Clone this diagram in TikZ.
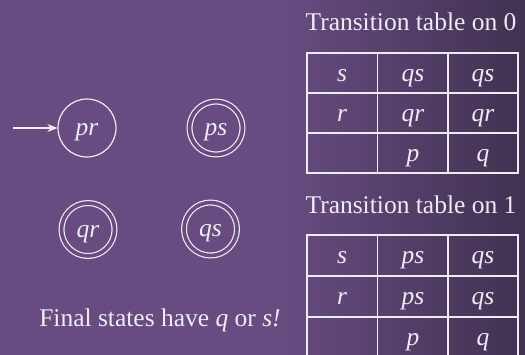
\documentclass[tikz,border=0pt]{standalone}
\usepackage{fontspec}
\setmainfont{Liberation Serif}
\usetikzlibrary{arrows.meta,positioning}
\definecolor{slidebg}{RGB}{103,75,129}
\definecolor{slidedark}{RGB}{62,49,79}
\definecolor{chalk}{RGB}{238,236,242}

\tikzset{
  state/.style={circle, draw=chalk, line width=1.2pt, minimum size=58pt, inner sep=0pt,
    text=chalk, text height=15pt, text depth=0pt},
  final/.style={state, minimum size=53pt, double=slidebg, double distance=3.6pt},
  cell/.style={text=chalk, inner sep=0pt, text height=16pt, text depth=0pt},
  caption/.style={text=chalk, anchor=base, inner sep=0pt},
  gridline/.style={draw=chalk, line width=1.4pt},
}

\begin{document}
\begin{tikzpicture}[x=1pt,y=-1pt,font=\fontsize{25.5}{30}\selectfont]
\useasboundingbox (0,0) rectangle (525,354);
\clip (0,0) rectangle (525,354);
\fill[slidebg] (-10,-10) rectangle (535,364);
\shade[left color=slidebg, right color=slidedark] (285,-10) rectangle (535,364);

\node[state] (pr) at (87,128) {\textit{pr}};
\node[final] (ps) at (216,128) {\textit{ps}};
\node[final] (qr) at (88,229.5) {\textit{qr}};
\node[final] (qs) at (210.5,229) {\textit{qs}};
\coordinate (start) at (13,128);
\draw[-{Stealth[length=10pt,width=8pt]}, chalk, line width=1.3pt] (start) -- (pr);

\node[caption] (note) at (160,326) {Final states have \textit{q} or \textit{s!}};

\foreach \y/\h in {53/40,235/41}{
  \draw[gridline] (307,\y) rectangle (518,\y+3*\h);
  \foreach \c in {377.5,448} \draw[gridline] (\c,\y) -- (\c,\y+3*\h);
  \foreach \r in {1,2} \draw[gridline] (307,\y+\r*\h) -- (518,\y+\r*\h);
}

\node[caption] (cap0) at (411,30) {Transition table on 0};
\foreach \row/\lab/\mid/\rgt in {1/s/qs/qs,2/r/qr/qr}{
  \node[cell] (zero\row a) at (342,33+40*\row) {\textit{\lab}};
  \node[cell] (zero\row b) at (413,33+40*\row) {\textit{\mid}};
  \node[cell] (zero\row c) at (483,33+40*\row) {\textit{\rgt}};
}
\node[cell] (zero3b) at (413,153) {\textit{p}};
\node[cell] (zero3c) at (483,153) {\textit{q}};

\node[caption] (cap1) at (411,213) {Transition table on 1};
\foreach \row/\lab/\mid/\rgt in {1/s/ps/qs,2/r/ps/qs}{
  \node[cell] (one\row a) at (342,214.5+41*\row) {\textit{\lab}};
  \node[cell] (one\row b) at (413,214.5+41*\row) {\textit{\mid}};
  \node[cell] (one\row c) at (483,214.5+41*\row) {\textit{\rgt}};
}
\node[cell] (one3b) at (413,337.5) {\textit{p}};
\node[cell] (one3c) at (483,337.5) {\textit{q}};
\end{tikzpicture}
\end{document}
